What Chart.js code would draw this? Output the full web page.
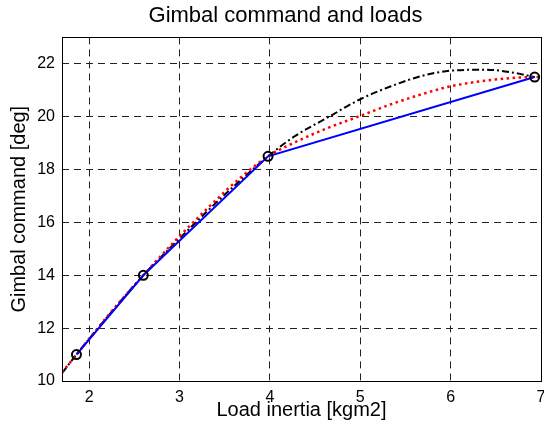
<!DOCTYPE html>
<html>
<head>
<meta charset="utf-8">
<script src="https://cdn.jsdelivr.net/npm/chart.js@4/dist/chart.umd.min.js"></script>
<style>
  html, body { margin: 0; padding: 0; background: #fff; }
  #wrap { width: 544px; height: 427px; }
</style>
</head>
<body>
<div id="wrap"><canvas id="c"></canvas></div>
<script>
// Points mesurés (cercles) + courbe linéaire bleue
const LOAD_X = [1.86, 2.6, 3.98, 6.93];
const CMD_Y  = [11.0, 14.0, 18.5, 21.5];

// Courbe rouge pointillée
const RED_X = [1.7, 1.86, 2.23, 2.6, 2.95, 3.3, 3.65, 3.98, 4.27, 4.64, 5.0, 5.34, 5.71, 6.0, 6.38, 6.67, 6.93, 7.0];
const RED_Y = [10.32, 11.0, 12.56, 14.0, 15.3, 16.5, 17.62, 18.5, 19.02, 19.57, 20.03, 20.47, 20.88, 21.15, 21.36, 21.46, 21.5, 21.5];

// Courbe noire tiret-point
const BLK_X = [1.7, 1.86, 2.23, 2.6, 2.95, 3.3, 3.65, 3.98, 4.27, 4.64, 5.0, 5.34, 5.71, 6.0, 6.38, 6.67, 6.93];
const BLK_Y = [10.3, 11.0, 12.54, 14.0, 15.22, 16.4, 17.52, 18.5, 19.25, 19.97, 20.66, 21.15, 21.57, 21.74, 21.78, 21.68, 21.5];

const X_TICKS = [2, 3, 4, 5, 6, 7];
const Y_TICKS = [10, 12, 14, 16, 18, 20, 22];

const FONT = "'Liberation Sans', Arial, Helvetica, sans-serif";

const pts = (xs, ys) => xs.map((x, i) => ({ x: x, y: ys[i] }));

// cadre noir autour de la zone de tracé (style MATLAB)
const boxPlugin = {
  id: 'box',
  afterDraw(chart) {
    const a = chart.chartArea;
    const ctx = chart.ctx;
    ctx.save();
    ctx.strokeStyle = '#000';
    ctx.lineWidth = 1;
    ctx.strokeRect(Math.round(a.left) + 0.5, Math.round(a.top) + 0.5,
                   Math.round(a.right - a.left), Math.round(a.bottom - a.top));
    ctx.restore();
  },
};

new Chart(document.getElementById('c'), {
  type: 'line',
  data: {
    datasets: [
      {
        label: 'mesures',
        data: pts(LOAD_X, CMD_Y),
        showLine: false,
        pointStyle: 'circle',
        pointRadius: 4.5,
        pointBorderWidth: 2,
        pointBorderColor: '#000',
        pointBackgroundColor: 'rgba(0,0,0,0)',
      },
      {
        label: 'linéaire',
        data: pts(LOAD_X, CMD_Y),
        borderColor: '#0000ff',
        borderWidth: 2,
        pointRadius: 0,
        tension: 0,
      },
      {
        label: 'spline',
        data: pts(RED_X, RED_Y),
        borderColor: '#ff0000',
        borderWidth: 2.5,
        borderDash: [2.5, 3.5],
        pointRadius: 0,
        cubicInterpolationMode: 'monotone',
      },
      {
        label: 'poly',
        data: pts(BLK_X, BLK_Y),
        borderColor: '#000',
        borderWidth: 2,
        borderDash: [7, 3, 2, 3],
        pointRadius: 0,
        cubicInterpolationMode: 'monotone',
      },
    ],
  },
  options: {
    animation: false,
    responsive: true,
    maintainAspectRatio: false,
    // marge gauche pour recentrer le titre sur ~x=288 comme l'original ;
    // pas d'autoPadding : le cadre va jusqu'à x≈541, le "7" déborde comme sur l'original
    layout: { autoPadding: false, padding: { left: 30, right: 3, top: 0, bottom: 0 } },
    plugins: {
      legend: { display: false },
      tooltip: { enabled: false },
      title: {
        display: true,
        text: 'Gimbal command and loads',
        color: '#000',
        font: { family: FONT, size: 22, weight: 'normal' },
        padding: { top: 3, bottom: 8 },
      },
    },
    scales: {
      x: {
        type: 'linear',
        min: 1.7,
        max: 7,
        afterBuildTicks: (s) => { s.ticks = X_TICKS.map((v) => ({ value: v })); },
        afterFit: (s) => { s.height = 46; s.paddingRight = 0; s.paddingLeft = 0; },
        ticks: {
          color: '#000',
          padding: 7,
          maxRotation: 0,
          font: { family: FONT, size: 16 },
        },
        grid: { color: '#222', lineWidth: 1, drawTicks: false },
        border: { display: false, dash: [7, 5] },
        title: {
          display: true,
          text: 'Load inertia [kgm2]',
          color: '#000',
          font: { family: FONT, size: 20 },
          padding: { top: 0, bottom: 5 },
        },
      },
      y: {
        min: 10,
        max: 23,
        afterBuildTicks: (s) => { s.ticks = Y_TICKS.map((v) => ({ value: v })); },
        afterFit: (s) => { s.width = 32; },
        ticks: {
          color: '#000',
          padding: 7,
          font: { family: FONT, size: 16 },
        },
        grid: { color: '#222', lineWidth: 1, drawTicks: false },
        border: { display: false, dash: [7, 5] },
        title: {
          display: true,
          text: 'Gimbal command [deg]',
          color: '#000',
          font: { family: FONT, size: 20 },
          padding: { top: -23, bottom: 0 },
        },
      },
    },
  },
  plugins: [boxPlugin],
});
</script>
</body>
</html>
